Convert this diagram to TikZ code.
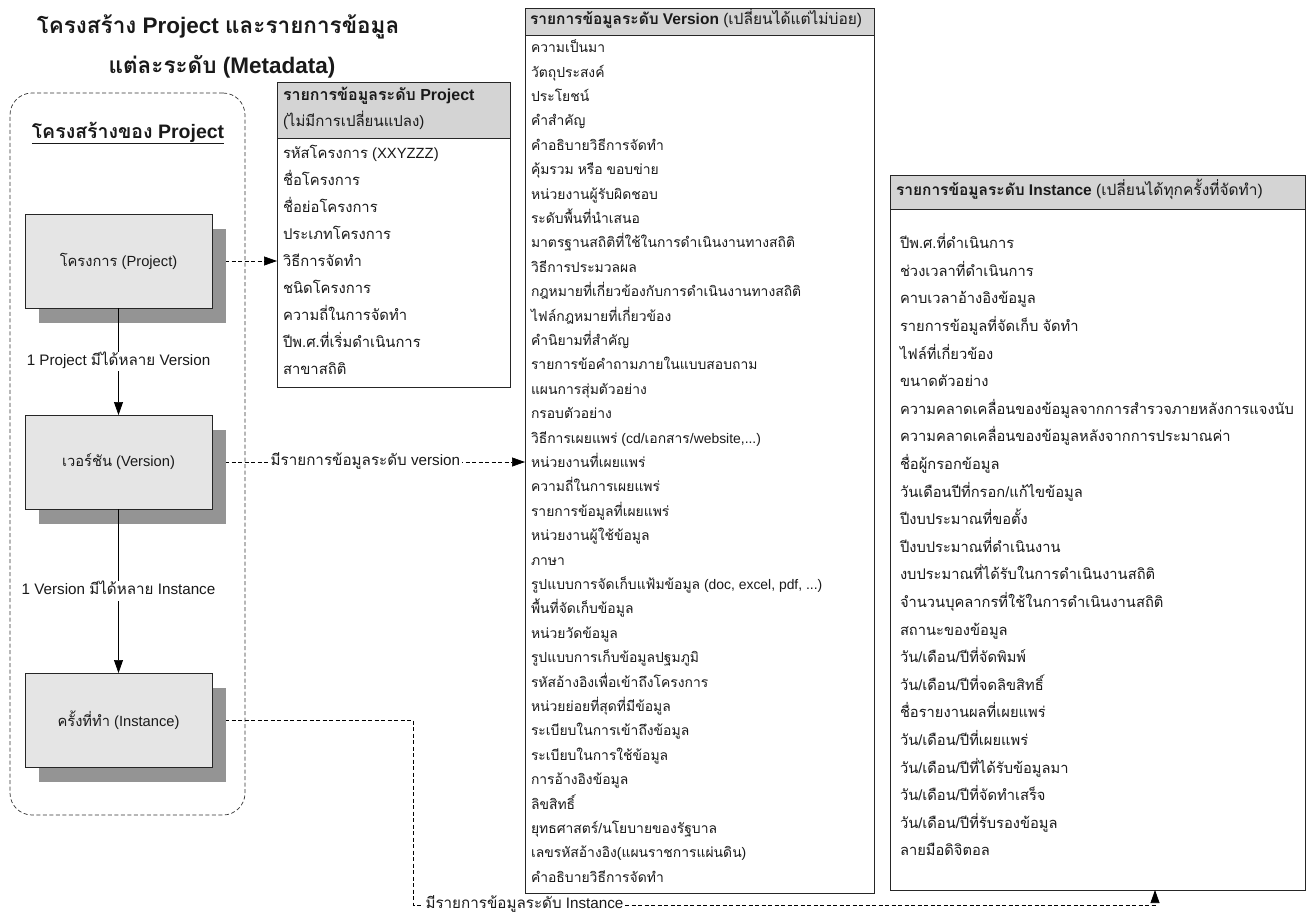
\documentclass[tikz,border=0pt]{standalone}
\usepackage{fontspec}
\setmainfont{Liberation Sans}
\newfontfamily\thaifont[Script=Thai]{Loma}
\newfontfamily\latinfont{Liberation Sans}
\newXeTeXintercharclass\thaicls
\count255="0E00
\loop\XeTeXcharclass\count255=\thaicls\relax\ifnum\count255<"0E7F \advance\count255 by 1 \repeat
\XeTeXinterchartoks 0 \thaicls = {\thaifont}
\XeTeXinterchartoks 4095 \thaicls = {\thaifont}
\XeTeXinterchartoks \thaicls 0 = {\latinfont}
\XeTeXinterchartoks \thaicls 4095 = {\latinfont}
\XeTeXinterchartokenstate=1
\usetikzlibrary{arrows.meta}
\newcommand{\tdots}{...}
\begin{document}
\begin{tikzpicture}[x=1pt,y=-1pt,
  every node/.style={inner sep=0pt, outer sep=0pt, text=black!90},
  itemtxt/.style={anchor=west, text height=12pt, text depth=4.5pt},
  pitem/.style={itemtxt, font=\fontsize{14.8}{17}\selectfont},
  vitem/.style={itemtxt, font=\fontsize{13.9}{16}\selectfont},
  iitem/.style={itemtxt, font=\fontsize{14.7}{17}\selectfont},
  lbltxt/.style={fill=white, inner sep=1.5pt, text height=12pt, text depth=4.5pt, font=\fontsize{15.2}{17}\selectfont},
  lvlbox/.style={draw=black!85, fill=black!10, line width=0.9pt, minimum width=187pt, minimum height=94pt, font=\fontsize{14.7}{17}\selectfont},
  shadowbox/.style={fill=black!42, minimum width=187pt, minimum height=94pt},
  listframe/.style={draw=black!85, fill=white, line width=0.9pt},
  hdrbox/.style={draw=black!85, fill=black!17, line width=0.9pt},
  dsh/.style={dash pattern=on 4pt off 2.5pt, line width=0.7pt},
  conn/.style={dsh, -{Triangle[length=13pt,width=9pt]}},
  solidarrow/.style={line width=0.7pt, -{Triangle[length=13pt,width=9pt]}},
]
\useasboundingbox (0,0) rectangle (1311,921);
\fill[white] (0,0) rectangle (1311,921);

% title
\node[font=\bfseries\fontsize{22.5}{26}\selectfont] (title1) at (218,27) {โครงสร้าง Project และรายการข้อมูล};
\node[font=\bfseries\fontsize{22.5}{26}\selectfont] (title2) at (222,67) {แต่ละระดับ (Metadata)};

% dashed frame
\node[draw=black!80, dsh, rounded corners=22pt, minimum width=235pt, minimum height=722pt] (frame) at (127.5,454) {};
\node[font=\bfseries\fontsize{19.5}{22}\selectfont] (ftitle) at (128,133) {\underline{โครงสร้างของ Project}};

% list boxes (frames)
\node[listframe, minimum width=233pt, minimum height=305pt] (plist) at (393.5,234.5) {};
\node[hdrbox, minimum width=233pt, minimum height=56pt] (phdr) at (393.5,110) {};
\node[listframe, minimum width=349pt, minimum height=885pt] (vlist) at (699.5,450.5) {};
\node[hdrbox, minimum width=349pt, minimum height=27pt] (vhdr) at (699.5,21.5) {};
\node[listframe, minimum width=415pt, minimum height=715pt] (ilist) at (1097.5,532.5) {};
\node[hdrbox, minimum width=415pt, minimum height=34pt] (ihdr) at (1097.5,192) {};

% connectors (drawn before the level boxes so shadows sit on top)
\node[lvlbox, draw=none, fill=none] (proj0) at (118.5,261) {};
\draw[conn] (proj0.east) -- (proj0.east -| plist.west);
\node[lvlbox, draw=none, fill=none] (ver0) at (118.5,462) {};
\draw[conn] (ver0.east) -- node[lbltxt, pos=0.49] (vlabel) {มีรายการข้อมูลระดับ version} (ver0.east -| vlist.west);
\node[lvlbox, draw=none, fill=none] (inst0) at (118.5,720) {};
\coordinate (ibend) at (413,905);
\coordinate (iarrow) at (1155,905);
\draw[conn] (inst0.east) -| (ibend) -- (iarrow) -- (iarrow |- ilist.south);
\node[lbltxt, anchor=west] (ilabel) at (424,905) {มีรายการข้อมูลระดับ Instance};

% level boxes with shadows
\node[shadowbox] (pshadow) at (132.5,276) {};
\node[lvlbox] (proj) at (118.5,261) {โครงการ (Project)};
\node[shadowbox] (vshadow) at (132.5,477) {};
\node[lvlbox] (ver) at (118.5,462) {เวอร์ชัน (Version)};
\node[shadowbox] (ishadow) at (132.5,735) {};
\node[lvlbox] (inst) at (118.5,720) {ครั้งที่ทำ (Instance)};

\draw[solidarrow] (proj.south) -- node[lbltxt] (plabel) {1 Project มีได้หลาย Version} (ver.north);
\draw[solidarrow] (ver.south) -- node[lbltxt] (ilabel2) {1 Version มีได้หลาย Instance} (inst.north);

% project list
\node[itemtxt, font=\bfseries\fontsize{16}{18}\selectfont] (ph1) at (283,97) {รายการข้อมูลระดับ Project};
\node[itemtxt, font=\fontsize{15}{17}\selectfont] (ph2) at (283,123) {(ไม่มีการเปลี่ยนแปลง)};
\foreach \t [count=\i] in {{รหัสโครงการ (XXYZZZ)},{ชื่อโครงการ},{ชื่อย่อโครงการ},{ประเภทโครงการ},{วิธีการจัดทำ},{ชนิดโครงการ},{ความถี่ในการจัดทำ},{ปีพ.ศ.ที่เริ่มดำเนินการ},{สาขาสถิติ}}
  \node[pitem] (p\i) at (283,{155+27*(\i-1)}) {\t};

% version list
\node[itemtxt, font=\fontsize{15.5}{18}\selectfont] (vh) at (530,21) {\textbf{รายการข้อมูลระดับ Version} (เปลี่ยนได้แต่ไม่บ่อย)};
\foreach \t [count=\i] in {{ความเป็นมา},{วัตถุประสงค์},{ประโยชน์},{คำสำคัญ},{คำอธิบายวิธีการจัดทำ},{คุ้มรวม หรือ ขอบข่าย},{หน่วยงานผู้รับผิดชอบ},{ระดับพื้นที่นำเสนอ},{มาตรฐานสถิติที่ใช้ในการดำเนินงานทางสถิติ},{วิธีการประมวลผล},{กฎหมายที่เกี่ยวข้องกับการดำเนินงานทางสถิติ},{ไฟล์กฎหมายที่เกี่ยวข้อง},{คำนิยามที่สำคัญ},{รายการข้อคำถามภายในแบบสอบถาม},{แผนการสุ่มตัวอย่าง},{กรอบตัวอย่าง},{วิธีการเผยแพร่ (cd/เอกสาร/website,\tdots)},{หน่วยงานที่เผยแพร่},{ความถี่ในการเผยแพร่},{รายการข้อมูลที่เผยแพร่},{หน่วยงานผู้ใช้ข้อมูล},{ภาษา},{รูปแบบการจัดเก็บแฟ้มข้อมูล (doc, excel, pdf, \tdots)},{พื้นที่จัดเก็บข้อมูล},{หน่วยวัดข้อมูล},{รูปแบบการเก็บข้อมูลปฐมภูมิ},{รหัสอ้างอิงเพื่อเข้าถึงโครงการ},{หน่วยย่อยที่สุดที่มีข้อมูล},{ระเบียบในการเข้าถึงข้อมูล},{ระเบียบในการใช้ข้อมูล},{การอ้างอิงข้อมูล},{ลิขสิทธิ์},{ยุทธศาสตร์/นโยบายของรัฐบาล},{เลขรหัสอ้างอิง(แผนราชการแผ่นดิน)},{คำอธิบายวิธีการจัดทำ}}
  \node[vitem] (v\i) at (531,{49+24.4*(\i-1)}) {\t};

% instance list
\node[itemtxt, font=\fontsize{15.5}{17}\selectfont] (ih) at (896,192) {\textbf{รายการข้อมูลระดับ Instance} (เปลี่ยนได้ทุกครั้งที่จัดทำ)};
\foreach \t [count=\i] in {{ปีพ.ศ.ที่ดำเนินการ},{ช่วงเวลาที่ดำเนินการ},{คาบเวลาอ้างอิงข้อมูล},{รายการข้อมูลที่จัดเก็บ จัดทำ},{ไฟล์ที่เกี่ยวข้อง},{ขนาดตัวอย่าง},{ความคลาดเคลื่อนของข้อมูลจากการสำรวจภายหลังการแจงนับ},{ความคลาดเคลื่อนของข้อมูลหลังจากการประมาณค่า},{ชื่อผู้กรอกข้อมูล},{วันเดือนปีที่กรอก/แก้ไขข้อมูล},{ปีงบประมาณที่ขอตั้ง},{ปีงบประมาณที่ดำเนินงาน},{งบประมาณที่ได้รับในการดำเนินงานสถิติ},{จำนวนบุคลากรที่ใช้ในการดำเนินงานสถิติ},{สถานะของข้อมูล},{วัน/เดือน/ปีที่จัดพิมพ์},{วัน/เดือน/ปีที่จดลิขสิทธิ์},{ชื่อรายงานผลที่เผยแพร่},{วัน/เดือน/ปีที่เผยแพร่},{วัน/เดือน/ปีที่ได้รับข้อมูลมา},{วัน/เดือน/ปีที่จัดทำเสร็จ},{วัน/เดือน/ปีที่รับรองข้อมูล},{ลายมือดิจิตอล}}
  \node[iitem] (i\i) at (900,{245+27.6*(\i-1)}) {\t};
\end{tikzpicture}
\end{document}
